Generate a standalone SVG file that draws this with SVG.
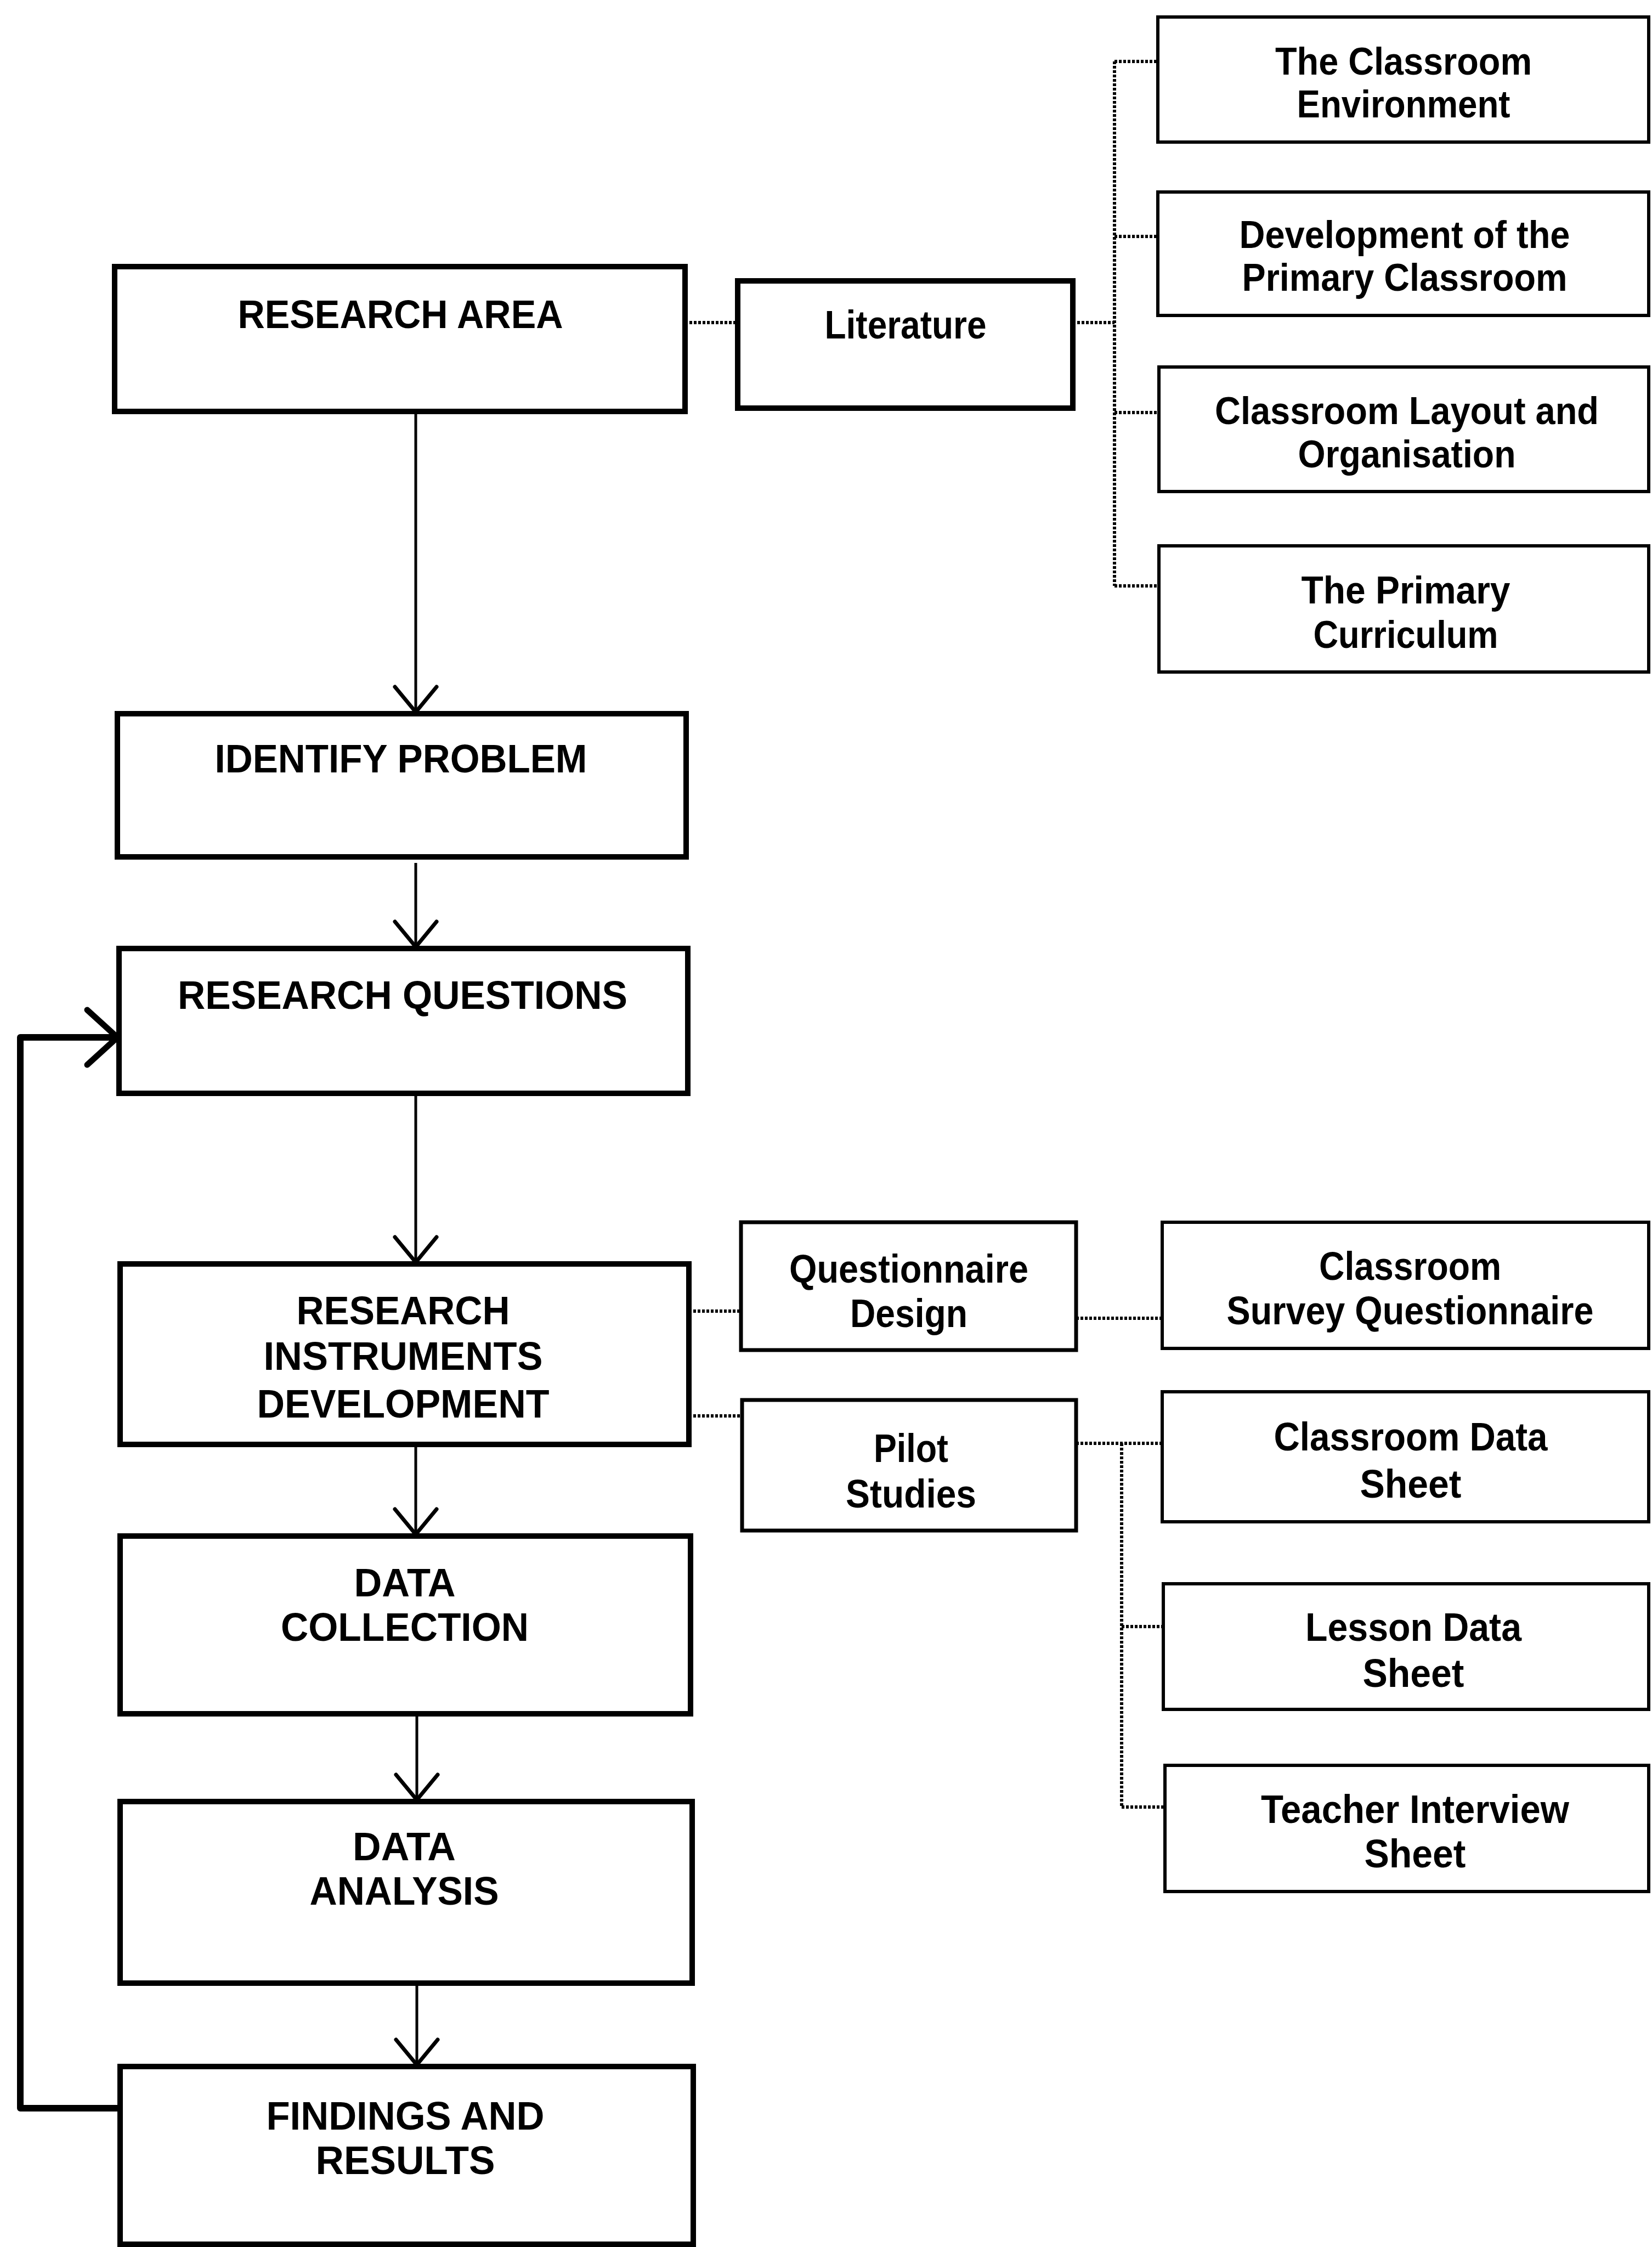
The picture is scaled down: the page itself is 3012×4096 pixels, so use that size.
<svg xmlns="http://www.w3.org/2000/svg" width="3012" height="4096" viewBox="0 0 3012 4096">
<style>
.bm{fill:#fff;stroke:#000;stroke-width:10}
.bs{fill:#fff;stroke:#000;stroke-width:7}
.br{fill:#fff;stroke:#000;stroke-width:6}
.tn{font-family:"Liberation Sans Narrow","Liberation Sans",Arial,sans-serif;font-weight:bold;font-size:72px;text-anchor:middle;fill:#000}
.tw{font-family:"Liberation Sans",Arial,sans-serif;font-weight:bold;font-size:70px;text-anchor:middle;fill:#000}
.dot{fill:none;stroke:#000;stroke-width:6;stroke-dasharray:5 3}
.arw{fill:none;stroke:#000;stroke-width:5}
.loop{fill:none;stroke:#000;stroke-width:12;stroke-linejoin:round}
</style>
<defs>
<marker id="ah" markerUnits="userSpaceOnUse" viewBox="-60 -60 70 120" markerWidth="70" markerHeight="120" refX="0" refY="0" orient="auto" overflow="visible">
<path d="M-46,-38 L0,0 L-46,38" fill="none" stroke="#000" stroke-width="7" stroke-linecap="round"/>
</marker>
<marker id="ahb" markerUnits="userSpaceOnUse" viewBox="-70 -70 80 140" markerWidth="80" markerHeight="140" refX="0" refY="0" orient="auto" overflow="visible">
<path d="M-55,-50 L0,0 L-55,50" fill="none" stroke="#000" stroke-width="11" stroke-linecap="round"/>
</marker>
</defs>
<rect width="3012" height="4096" fill="#fff"/>
<g id="connectors">
<line class="dot" x1="1249" y1="588" x2="1345" y2="588"/>
<line class="dot" x1="1956" y1="588" x2="2032" y2="588"/>
<line class="dot" x1="2032" y1="112" x2="2032" y2="1068"/>
<line class="dot" x1="2032" y1="112" x2="2111" y2="112"/>
<line class="dot" x1="2032" y1="431" x2="2111" y2="431"/>
<line class="dot" x1="2032" y1="752" x2="2113" y2="752"/>
<line class="dot" x1="2032" y1="1068" x2="2113" y2="1068"/>
<line class="dot" x1="1256" y1="2390" x2="1351" y2="2390"/>
<line class="dot" x1="1256" y1="2581" x2="1353" y2="2581"/>
<line class="dot" x1="1962" y1="2403" x2="2119" y2="2403"/>
<line class="dot" x1="1962" y1="2631" x2="2119" y2="2631"/>
<line class="dot" x1="2045" y1="2631" x2="2045" y2="3294"/>
<line class="dot" x1="2045" y1="2965" x2="2121" y2="2965"/>
<line class="dot" x1="2045" y1="3294" x2="2124" y2="3294"/>
<line class="arw" x1="758" y1="750" x2="758" y2="1298" marker-end="url(#ah)"/>
<line class="arw" x1="758" y1="1573" x2="758" y2="1726" marker-end="url(#ah)"/>
<line class="arw" x1="758" y1="1993" x2="758" y2="2301" marker-end="url(#ah)"/>
<line class="arw" x1="758" y1="2638" x2="758" y2="2797" marker-end="url(#ah)"/>
<line class="arw" x1="760" y1="3124" x2="760" y2="3281" marker-end="url(#ah)"/>
<line class="arw" x1="760" y1="3615" x2="760" y2="3764" marker-end="url(#ah)"/>
<path class="loop" d="M219,3843 L37,3843 L37,1891 L214,1891" marker-end="url(#ahb)"/>
</g>
<g id="research-area"><rect class="bm" x="209" y="486" width="1040" height="264"/><text class="tn" x="730" y="598" textLength="593" lengthAdjust="spacingAndGlyphs">RESEARCH AREA</text></g>
<g id="literature"><rect class="bm" x="1345" y="512" width="611" height="232"/><text class="tn" x="1651" y="617" textLength="295" lengthAdjust="spacingAndGlyphs">Literature</text></g>
<g id="classroom-environment"><rect class="br" x="2111" y="31" width="895" height="228"/><text class="tw" x="2559" y="136" textLength="468" lengthAdjust="spacingAndGlyphs">The Classroom</text><text class="tw" x="2559" y="214" textLength="389" lengthAdjust="spacingAndGlyphs">Environment</text></g>
<g id="development-primary"><rect class="br" x="2111" y="350" width="895" height="225"/><text class="tw" x="2561" y="452" textLength="603" lengthAdjust="spacingAndGlyphs">Development of the</text><text class="tw" x="2561" y="530" textLength="593" lengthAdjust="spacingAndGlyphs">Primary Classroom</text></g>
<g id="layout-organisation"><rect class="br" x="2113" y="669" width="893" height="227"/><text class="tw" x="2565" y="773" textLength="700" lengthAdjust="spacingAndGlyphs">Classroom Layout and</text><text class="tw" x="2565" y="852" textLength="397" lengthAdjust="spacingAndGlyphs">Organisation</text></g>
<g id="primary-curriculum"><rect class="br" x="2113" y="995" width="893" height="230"/><text class="tw" x="2563" y="1100" textLength="381" lengthAdjust="spacingAndGlyphs">The Primary</text><text class="tw" x="2563" y="1181" textLength="337" lengthAdjust="spacingAndGlyphs">Curriculum</text></g>
<g id="identify-problem"><rect class="bm" x="214" y="1301" width="1037" height="261"/><text class="tn" x="731" y="1408" textLength="679" lengthAdjust="spacingAndGlyphs">IDENTIFY PROBLEM</text></g>
<g id="research-questions"><rect class="bm" x="217" y="1729" width="1037" height="264"/><text class="tn" x="734" y="1839" textLength="820" lengthAdjust="spacingAndGlyphs">RESEARCH QUESTIONS</text></g>
<g id="instruments-development"><rect class="bm" x="219" y="2304" width="1037" height="329"/><text class="tn" x="735" y="2414" textLength="389" lengthAdjust="spacingAndGlyphs">RESEARCH</text><text class="tn" x="735" y="2497" textLength="509" lengthAdjust="spacingAndGlyphs">INSTRUMENTS</text><text class="tn" x="735" y="2584" textLength="533" lengthAdjust="spacingAndGlyphs">DEVELOPMENT</text></g>
<g id="questionnaire-design"><rect class="bs" x="1351" y="2228" width="611" height="233"/><text class="tn" x="1657" y="2338" textLength="436" lengthAdjust="spacingAndGlyphs">Questionnaire</text><text class="tn" x="1657" y="2419" textLength="214" lengthAdjust="spacingAndGlyphs">Design</text></g>
<g id="pilot-studies"><rect class="bs" x="1353" y="2552" width="609" height="238"/><text class="tn" x="1661" y="2665" textLength="136" lengthAdjust="spacingAndGlyphs">Pilot</text><text class="tn" x="1661" y="2748" textLength="238" lengthAdjust="spacingAndGlyphs">Studies</text></g>
<g id="survey-questionnaire"><rect class="br" x="2119" y="2228" width="887" height="230"/><text class="tn" x="2571" y="2333" textLength="332" lengthAdjust="spacingAndGlyphs">Classroom</text><text class="tn" x="2571" y="2414" textLength="669" lengthAdjust="spacingAndGlyphs">Survey Questionnaire</text></g>
<g id="classroom-data-sheet"><rect class="br" x="2119" y="2537" width="887" height="237"/><text class="tn" x="2572" y="2644" textLength="499" lengthAdjust="spacingAndGlyphs">Classroom Data</text><text class="tn" x="2572" y="2730" textLength="185" lengthAdjust="spacingAndGlyphs">Sheet</text></g>
<g id="lesson-data-sheet"><rect class="br" x="2121" y="2887" width="885" height="229"/><text class="tn" x="2577" y="2991" textLength="394" lengthAdjust="spacingAndGlyphs">Lesson Data</text><text class="tn" x="2577" y="3075" textLength="185" lengthAdjust="spacingAndGlyphs">Sheet</text></g>
<g id="teacher-interview-sheet"><rect class="br" x="2124" y="3218" width="882" height="230"/><text class="tn" x="2580" y="3323" textLength="562" lengthAdjust="spacingAndGlyphs">Teacher Interview</text><text class="tn" x="2580" y="3404" textLength="185" lengthAdjust="spacingAndGlyphs">Sheet</text></g>
<g id="data-collection"><rect class="bm" x="219" y="2800" width="1040" height="324"/><text class="tn" x="738" y="2910" textLength="185" lengthAdjust="spacingAndGlyphs">DATA</text><text class="tn" x="738" y="2991" textLength="452" lengthAdjust="spacingAndGlyphs">COLLECTION</text></g>
<g id="data-analysis"><rect class="bm" x="219" y="3284" width="1043" height="331"/><text class="tn" x="737" y="3391" textLength="188" lengthAdjust="spacingAndGlyphs">DATA</text><text class="tn" x="737" y="3472" textLength="345" lengthAdjust="spacingAndGlyphs">ANALYSIS</text></g>
<g id="findings-results"><rect class="bm" x="219" y="3767" width="1045" height="324"/><text class="tn" x="739" y="3882" textLength="507" lengthAdjust="spacingAndGlyphs">FINDINGS AND</text><text class="tn" x="739" y="3963" textLength="327" lengthAdjust="spacingAndGlyphs">RESULTS</text></g>
</svg>
